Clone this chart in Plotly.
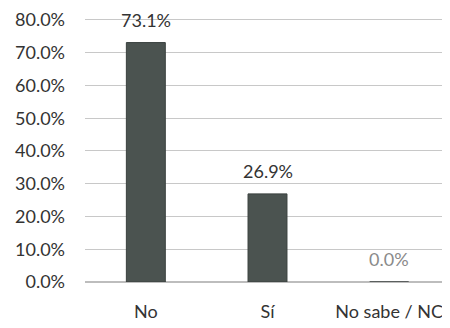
import plotly.graph_objects as go

categories = ["No", "Sí", "No sabe / NC"]
values = [0.731, 0.269, 0.0]
value_labels = ["73.1%", "26.9%", "0.0%"]
label_colors = ["#333333", "#333333", "#8a8a8a"]

fig = go.Figure()
fig.add_trace(go.Bar(
    x=categories, y=values,
    marker=dict(color="#4b5350", line=dict(color="#3a403e", width=1)),
    width=0.32,
))
for c, v, t, col in zip(categories, values, value_labels, label_colors):
    fig.add_annotation(x=c, y=v, text=t, showarrow=False, yanchor="bottom",
                       yshift=10, font=dict(size=18, color=col))

fig.update_layout(
    width=442, height=320,
    margin=dict(l=77, r=0, t=8, b=46),
    paper_bgcolor="white", plot_bgcolor="white",
    font=dict(family="Lato, Open Sans, sans-serif", size=18, color="#333333"),
    showlegend=False,
)
fig.update_yaxes(range=[0, 0.806], tickvals=[i / 10 for i in range(9)],
                 tickformat=".1%",
                 gridcolor="#c8c8c8", gridwidth=1, zeroline=True,
                 zerolinecolor="#bdbdbd", showline=False,
                 ticklabeloverflow="allow",
                 ticklabelstandoff=19, tickfont=dict(size=18, color="#333333"))
fig.update_xaxes(showline=False, ticklabelstandoff=17,
                 tickfont=dict(size=18, color="#333333"))
fig.write_html("out.html")
